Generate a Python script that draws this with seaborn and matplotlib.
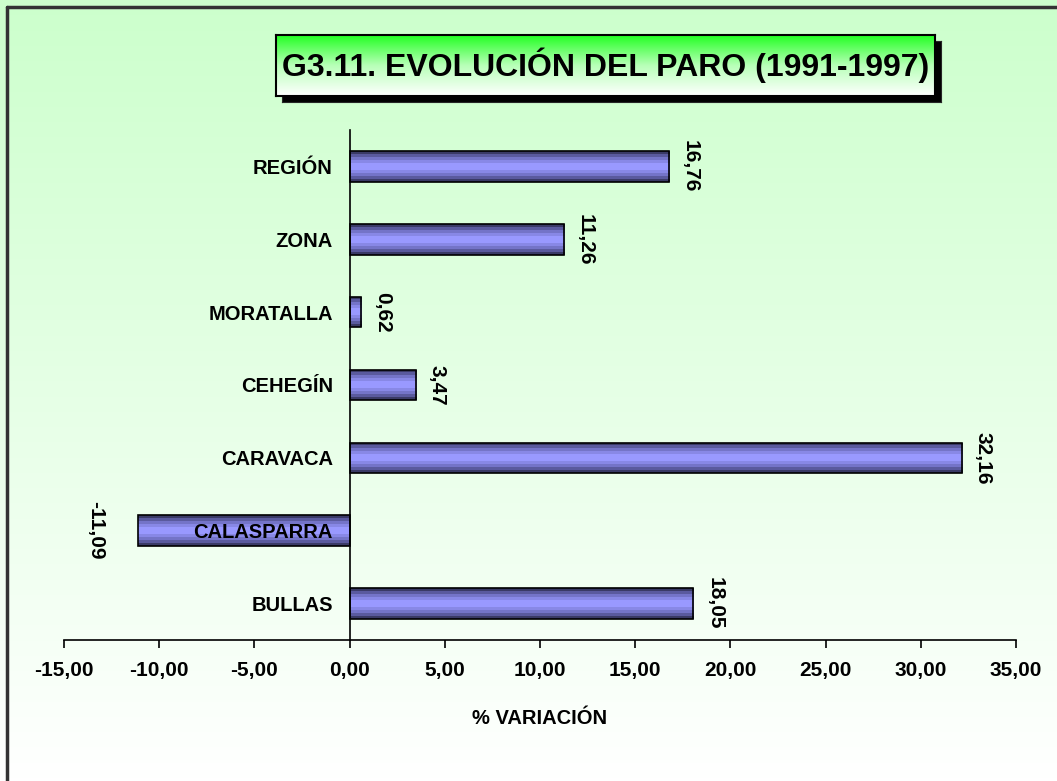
#!/usr/bin/env python3
"""G3.11 Evolucion del paro (1991-1997) - horizontal bar chart."""
import numpy as np
import seaborn as sns
import matplotlib.pyplot as plt
from matplotlib.colors import LinearSegmentedColormap
from matplotlib.lines import Line2D

sns.set_style("white")
plt.rcParams["font.family"] = ["Liberation Sans", "DejaVu Sans"]
for key in ["text.color", "axes.labelcolor", "xtick.color", "ytick.color"]:
    plt.rcParams[key] = "black"

categories = ["REGIÓN", "ZONA", "MORATALLA", "CEHEGÍN", "CARAVACA", "CALASPARRA", "BULLAS"]
values = [16.76, 11.26, 0.62, 3.47, 32.16, -11.09, 18.05]
x_ticks = [-15, -10, -5, 0, 5, 10, 15, 20, 25, 30, 35]
title = "G3.11. EVOLUCIÓN DEL PARO (1991-1997)"
x_label = "% VARIACIÓN"

W, H = 1057, 781
fig = plt.figure(figsize=(W / 100, H / 100), dpi=100)


def px_axes(x0, y0, x1, y1, **kw):
    # axes placed by pixel box (top-left origin)
    return fig.add_axes([x0 / W, 1 - y1 / H, (x1 - x0) / W, (y1 - y0) / H], **kw)


# background gradient, light green on top fading to white
bg = fig.add_axes([0, 0, 1, 1], zorder=-10)
bg_cmap = LinearSegmentedColormap.from_list("bg", ["#ccffcc", "#ffffff"])
bg.imshow(np.linspace(0, 1, 256).reshape(-1, 1), cmap=bg_cmap, aspect="auto",
          extent=[0, 1, 0, 1], origin="upper")
bg.set_axis_off()
fig.add_artist(Line2D([6.5 / W, 6.5 / W], [0, 1 - 6.5 / H], color="#333333", lw=2.5,
                      transform=fig.transFigure))
fig.add_artist(Line2D([6.5 / W, 1], [1 - 6.5 / H, 1 - 6.5 / H], color="#333333", lw=2.5,
                      transform=fig.transFigure))

# main chart
ax = px_axes(64, 130, 1016, 640)
ax.set_facecolor("none")
sns.barplot(x=values, y=categories, orient="h", width=0.42, color="#9999ff",
            edgecolor="black", linewidth=1.2, ax=ax)

bar_cmap = LinearSegmentedColormap.from_list(
    "bar", ["#3a3a66", "#5a5a9e", "#7474c8", "#8888e6", "#9999ff", "#9999ff",
            "#8888e6", "#7474c8", "#5a5a9e", "#3a3a66"], N=10)
grad = np.linspace(0, 1, 10).reshape(-1, 1)
for p in ax.patches:
    x0, y0 = p.get_x(), p.get_y()
    p.set_zorder(1)
    im = ax.imshow(grad, cmap=bar_cmap, aspect="auto", interpolation="nearest",
                   extent=[x0, x0 + p.get_width(), y0 + p.get_height(), y0],
                   zorder=0.9)
    im.set_clip_path(p)
    p.set_facecolor("none")

ax.set_xlim(-15, 35)
ax.set_ylim(len(categories) - 0.5, -0.5)

for i, v in enumerate(values):
    txt = f"{v:.2f}".replace(".", ",")
    if v >= 0:
        ax.annotate(txt, xy=(v, i), xytext=(12, 0), textcoords="offset pixels",
                    rotation=-90, ha="left", va="center", fontsize=15, fontweight="bold")
    else:
        ax.annotate(txt, xy=(v, i), xytext=(-33, 0), textcoords="offset pixels",
                    rotation=-90, ha="right", va="center", fontsize=15, fontweight="bold")

for s in ["top", "right"]:
    ax.spines[s].set_visible(False)
ax.spines["left"].set_position(("data", 0))
ax.spines["left"].set_zorder(5)
for s in ["left", "bottom"]:
    ax.spines[s].set_color("black")
    ax.spines[s].set_linewidth(1.2)

ax.set_xticks(x_ticks)
ax.set_xticklabels([f"{t:.2f}".replace(".", ",") for t in x_ticks],
                   fontsize=15, fontweight="bold")
ax.tick_params(axis="x", bottom=True, direction="out", length=6, width=1.2, pad=9)
ax.tick_params(axis="y", left=False, length=0, pad=12)
for lbl in ax.get_yticklabels():
    lbl.set_fontsize(14.5)
    lbl.set_fontweight("bold")
ax.yaxis.set_zorder(6)
ax.set_xlabel(x_label, fontsize=14.5, fontweight="bold", labelpad=21)
ax.set_ylabel("")

# title box with shadow
shadow = px_axes(282, 41, 941, 102, zorder=1)
shadow.set_facecolor("black")
shadow.set_xticks([])
shadow.set_yticks([])
tax = px_axes(276, 35, 935, 96, zorder=2)
t_cmap = LinearSegmentedColormap.from_list("title", ["#22ff22", "#b8ffb8", "#ffffff"])
tax.imshow(np.linspace(0, 1, 256).reshape(-1, 1), cmap=t_cmap, aspect="auto",
           extent=[0, 1, 0, 1], origin="upper")
tax.set_xticks([])
tax.set_yticks([])
for s in tax.spines.values():
    s.set_color("black")
    s.set_linewidth(1.5)
tax.text(0.5, 0.5, title, transform=tax.transAxes, ha="center", va="center",
         fontsize=23, fontweight="bold")

fig.savefig("out.png", dpi=100)
